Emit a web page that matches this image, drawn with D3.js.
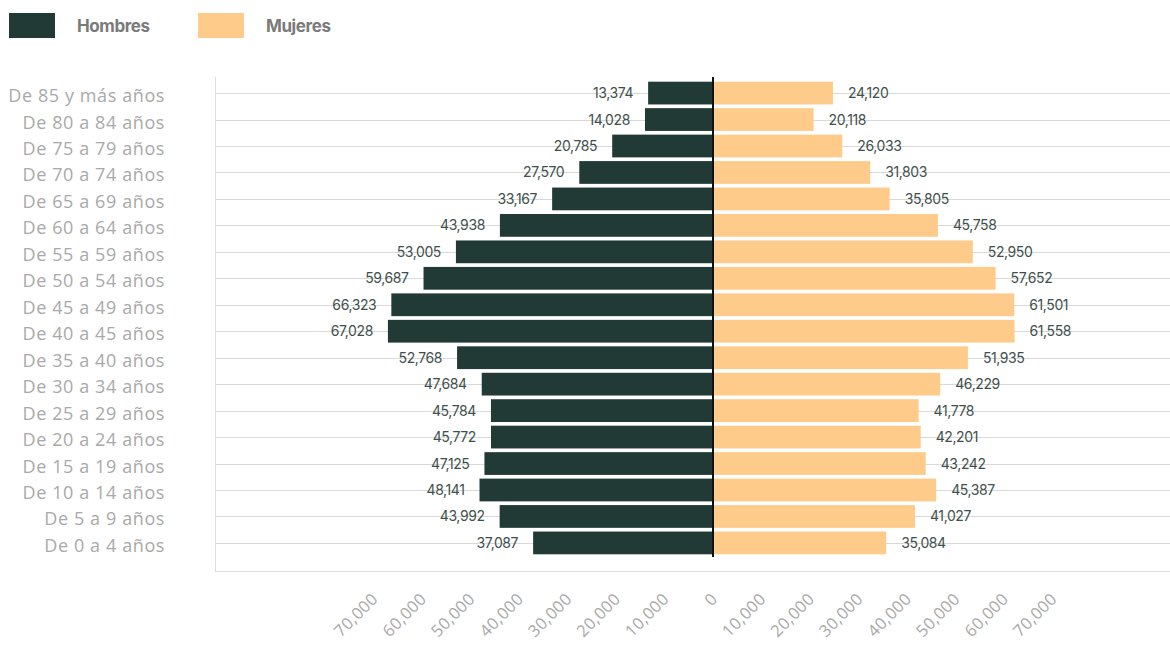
<!DOCTYPE html>
<html>
<head>
<meta charset="utf-8">
<script src="https://cdn.jsdelivr.net/npm/d3@7"></script>
<style>
  body { margin: 0; background: #fff; }
  svg { display: block; }
</style>
</head>
<body>
<svg width="1170" height="645"></svg>
<script>
// age groups, top of the chart first
const ageGroups = [
  "De 85 y más años", "De 80 a 84 años", "De 75 a 79 años", "De 70 a 74 años",
  "De 65 a 69 años", "De 60 a 64 años", "De 55 a 59 años", "De 50 a 54 años",
  "De 45 a 49 años", "De 40 a 45 años", "De 35 a 40 años", "De 30 a 34 años",
  "De 25 a 29 años", "De 20 a 24 años", "De 15 a 19 años", "De 10 a 14 años",
  "De 5 a 9 años", "De 0 a 4 años"
];
const hombres = [13374, 14028, 20785, 27570, 33167, 43938, 53005, 59687, 66323,
  67028, 52768, 47684, 45784, 45772, 47125, 48141, 43992, 37087];
const mujeres = [24120, 20118, 26033, 31803, 35805, 45758, 52950, 57652, 61501,
  61558, 51935, 46229, 41778, 42201, 43242, 45387, 41027, 35084];
const xTicks = [-70000, -60000, -50000, -40000, -30000, -20000, -10000, 0,
  10000, 20000, 30000, 40000, 50000, 60000, 70000];

const colorH = "#213a36";
const colorM = "#fecb8a";
const fmt = d3.format(",");

var svg = d3.select("svg");

var x = d3.scaleLinear().domain([-70000, 70000]).range([373.5, 1052.5]);
var y = d3.scaleBand().domain(ageGroups).range([78, 558]).padding(0.14);
var x0 = x(0);

// frame lines
svg.append("line")
    .attr("x1", 215.5).attr("x2", 215.5).attr("y1", 77).attr("y2", 572)
    .attr("stroke", "#dcdcdc");
svg.append("line")
    .attr("x1", 215).attr("x2", 1170).attr("y1", 571.5).attr("y2", 571.5)
    .attr("stroke", "#dcdcdc");

// gridlines
svg.append("g")
    .selectAll("line")
    .data(ageGroups)
    .enter().append("line")
    .attr("x1", 216).attr("x2", 1170)
    .attr("y1", d => Math.round(y(d) + y.bandwidth() / 2) + 0.5)
    .attr("y2", d => Math.round(y(d) + y.bandwidth() / 2) + 0.5)
    .attr("stroke", "#d9d9d9");

var rows = ageGroups.map((g, i) => ({ g: g, h: hombres[i], m: mujeres[i] }));

// bars
svg.append("g").selectAll("rect")
    .data(rows)
    .enter().append("rect")
    .attr("x", d => x(-d.h))
    .attr("y", d => y(d.g))
    .attr("width", d => x0 - x(-d.h))
    .attr("height", y.bandwidth())
    .attr("fill", colorH);

svg.append("g").selectAll("rect")
    .data(rows)
    .enter().append("rect")
    .attr("x", x0 + 1)
    .attr("y", d => y(d.g))
    .attr("width", d => x(d.m) - x0 + 2)
    .attr("height", y.bandwidth())
    .attr("fill", colorM);

// center line
svg.append("line")
    .attr("x1", x0).attr("x2", x0).attr("y1", 77).attr("y2", 557)
    .attr("stroke", "#111").attr("stroke-width", 2);

// value labels
var labelFont = "Inter, sans-serif";
svg.append("g").selectAll("text")
    .data(rows)
    .enter().append("text")
    .attr("x", d => x(-d.h) - 15)
    .attr("y", d => y(d.g) + y.bandwidth() / 2 + 5)
    .attr("text-anchor", "end")
    .attr("font-family", labelFont)
    .attr("font-size", 14)
    .attr("letter-spacing", -0.4)
    .attr("fill", "#3e504c")
    .text(d => fmt(d.h));

svg.append("g").selectAll("text")
    .data(rows)
    .enter().append("text")
    .attr("x", d => x(d.m) + 18)
    .attr("y", d => y(d.g) + y.bandwidth() / 2 + 5)
    .attr("font-family", labelFont)
    .attr("font-size", 14)
    .attr("letter-spacing", -0.4)
    .attr("fill", "#3e504c")
    .text(d => fmt(d.m));

// category labels
svg.append("g").selectAll("text")
    .data(ageGroups)
    .enter().append("text")
    .attr("x", 165)
    .attr("y", d => y(d) + y.bandwidth() / 2 + 9)
    .attr("text-anchor", "end")
    .attr("font-family", "'Open Sans', sans-serif")
    .attr("font-size", 18)
    .attr("letter-spacing", 0.6)
    .attr("fill", "#a9a9a9")
    .text(d => d);

// x axis
var xAxis = svg.append("g")
    .attr("transform", "translate(0,594)")
    .call(d3.axisBottom(x).tickValues(xTicks).tickSize(0).tickFormat(d => fmt(Math.abs(d))));
xAxis.select(".domain").remove();
xAxis.selectAll("text")
    .attr("font-family", "'Open Sans', sans-serif")
    .attr("font-size", 16.5)
    .attr("letter-spacing", 0.4)
    .attr("fill", "#a9a9a9")
    .attr("text-anchor", "end")
    .attr("dy", null)
    .attr("y", 0)
    .attr("transform", "translate(5,6) rotate(-45)");

// legend
var legend = [["Hombres", colorH, 9], ["Mujeres", colorM, 198]];
var leg = svg.append("g").selectAll("g")
    .data(legend)
    .enter().append("g");
leg.append("rect")
    .attr("x", d => d[2]).attr("y", 13)
    .attr("width", 46).attr("height", 25)
    .attr("fill", d => d[1]);
leg.append("text")
    .attr("x", d => d[2] + 68).attr("y", 32)
    .attr("font-family", "Inter, sans-serif")
    .attr("font-weight", 700)
    .attr("font-size", 17)
    .attr("letter-spacing", -0.4)
    .attr("fill", "#7a7a7a")
    .text(d => d[0]);
</script>
</body>
</html>
